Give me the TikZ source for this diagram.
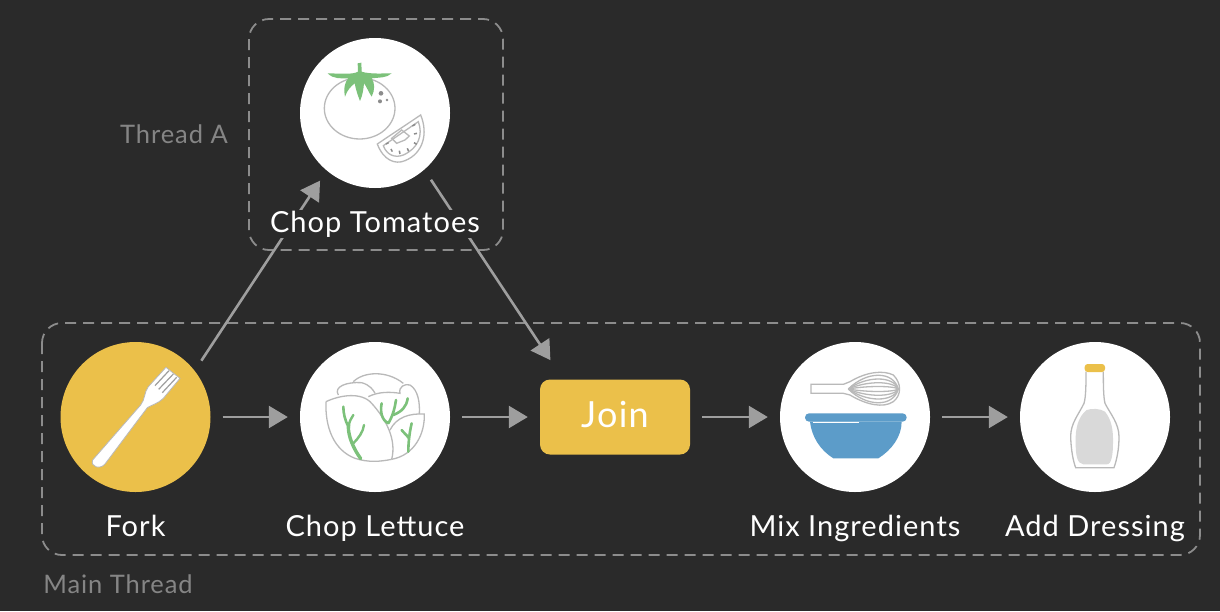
\documentclass[tikz,border=0pt]{standalone}
\usepackage{fontspec}
\setmainfont{Lato}[LetterSpace=3.6]
\usetikzlibrary{arrows.meta}
\definecolor{Board}{HTML}{2A2A2A}
\definecolor{Wire}{HTML}{9E9E9E}
\definecolor{Frame}{HTML}{8C8C8C}
\definecolor{Mute}{HTML}{858585}
\definecolor{Outline}{HTML}{B9B9B9}
\definecolor{Leaf}{HTML}{7CC17A}
\definecolor{Mustard}{HTML}{EBC04A}
\definecolor{Bowl}{HTML}{5C9CC9}
\definecolor{Sauce}{HTML}{D9D9D9}
\tikzset{
  disc/.style={circle,fill=white,minimum size=150pt,inner sep=0pt},
  tag/.style={anchor=base,text=white,font=\fontsize{29}{34}\selectfont,fill=Board,inner sep=1pt},
  note/.style={anchor=base,text=Mute,font=\fontsize{25.5}{30}\selectfont},
  flow/.style={Wire,line width=2.6pt,-{Triangle[length=19pt,width=22pt]},shorten <=12pt,shorten >=12pt},
  threadbox/.style={Frame,line width=1.8pt,rounded corners=20pt,dash pattern=on 11pt off 7pt},
  icon/.style={x=.3333pt,y=-.3333pt},
  thin line/.style={Outline,line width=1.3pt}
}
\begin{document}
\begin{tikzpicture}[x=1pt,y=-1pt]
  \useasboundingbox[fill=Board] (0,0) rectangle (1220,611);
  % thread frames
  \draw[threadbox] (249,19) rectangle (503,250);
  \draw[threadbox] (42,323) rectangle (1200,555);
  % steps
  \node[disc] (tomato) at (375,113) {};
  \node[disc,fill=Mustard] (fork) at (135.5,417) {};
  \node[disc] (lettuce) at (375,417) {};
  \node[fill=Mustard,rounded corners=10pt,minimum width=150pt,minimum height=75pt,inner sep=0pt] (join) at (615,417) {};
  \node[disc] (mix) at (855,417) {};
  \node[disc] (dressing) at (1095,417) {};
  % connectors
  \draw[flow] (fork) -- (lettuce);
  \draw[flow] (lettuce) -- (join);
  \draw[flow] (join) -- (mix);
  \draw[flow] (mix) -- (dressing);
  \draw[flow] (fork.38) -- (tomato.230);
  \draw[flow,shorten >=23pt] (tomato.-49) -- (join.144);
  % labels
  \node[tag] (tomatotag) at (375,232) {Chop Tomatoes};
  \node[tag,fill=none] (forktag) at (135.5,536) {Fork};
  \node[tag,fill=none] (lettucetag) at (375,536) {Chop Lettuce};
  \node[tag,fill=none,font=\fontsize{36}{40}\selectfont] (jointag) at (615,427) {Join};
  \node[tag,fill=none] (mixtag) at (855,536) {Mix Ingredients};
  \node[tag,fill=none] (dressingtag) at (1095,536) {Add Dressing};
  \node[note] (threada) at (174,143) {Thread A};
  \node[note] (mainthread) at (118,593) {Main Thread};
  % tomato
  \begin{scope}[shift={(290,40)},icon]
    \draw[thin line] (209,205) ellipse [x radius=106,y radius=92];
    \fill[Leaf] (113,100) .. controls (140,100) and (190,105) .. (204,95) -- (203,70) -- (214,68) -- (215,95) .. controls (240,103) and (280,100) .. (305,100) .. controls (290,115) and (265,112) .. (245,115) .. controls (255,130) and (255,150) .. (245,170) .. controls (235,155) and (230,140) .. (222,130) .. controls (220,150) and (218,165) .. (210,183) .. controls (203,165) and (198,150) .. (194,130) .. controls (182,140) and (172,150) .. (165,170) .. controls (160,145) and (165,125) .. (175,115) .. controls (155,115) and (130,118) .. (113,100) -- cycle;
    \fill[Frame] (273,160) circle [radius=7] (270,184) circle [radius=6] (291,180) circle [radius=4];
    \draw[thin line] (262,312) -- (392,225) .. controls (415,280) and (400,340) .. (345,362) .. controls (315,375) and (280,360) .. (262,312) -- cycle;
    \draw[thin line] (280,317) -- (385,245) .. controls (400,285) and (385,325) .. (340,345) .. controls (315,355) and (290,345) .. (280,317) -- cycle;
    \draw[thin line] (305,295) -- (335,270) -- (358,288) -- (345,300) -- (320,310) -- cycle;
    \foreach \a/\b/\c/\d in {288/312/296/308,303/327/307/335,328/332/330/342,352/325/356/334,372/308/380/313,372/282/381/280,367/258/376/253}
      \draw[Frame,line width=1.5pt] (\a,\b) -- (\c,\d);
  \end{scope}
  % fork
  \begin{scope}[shift={(50,340)},icon]
    \draw[fill=white,draw=Outline,line width=.8pt] (128,360) -- (272,195) .. controls (285,180) and (283,155) .. (295,140) -- (348,82) -- (390,115) -- (340,175) .. controls (325,190) and (305,195) .. (292,203) -- (165,372) .. controls (150,390) and (120,380) .. (128,360) -- cycle;
    \foreach \a/\b/\c/\d in {357/92/315/137,370/102/326/148,380/112/337/158}
      \draw[Wire,line width=1.2pt] (\a,\b) -- (\c,\d);
  \end{scope}
  % lettuce
  \begin{scope}[shift={(290,340)},icon]
    \draw[thin line] (190,125) .. controls (220,95) and (290,90) .. (340,130);
    \draw[thin line] (145,165) .. controls (130,140) and (170,125) .. (215,128) .. controls (240,135) and (250,150) .. (255,160);
    \draw[thin line] (108,185) .. controls (150,165) and (215,155) .. (245,190) .. controls (290,240) and (320,300) .. (305,358);
    \draw[thin line] (108,185) .. controls (105,260) and (130,330) .. (195,355) .. controls (235,368) and (270,365) .. (305,358);
    \draw[thin line] (300,270) .. controls (320,230) and (360,220) .. (403,222) .. controls (405,280) and (375,345) .. (305,358);
    \draw[thin line] (235,170) .. controls (265,155) and (300,155) .. (330,160) .. controls (325,140) and (345,130) .. (360,135) .. controls (385,150) and (390,190) .. (388,222);
    \draw[Leaf,line width=3.4pt,line cap=round] (212,356) .. controls (190,325) and (175,290) .. (175,260);
    \draw[Leaf,line width=2.6pt,line cap=round] (175,260) .. controls (165,240) and (160,220) .. (160,200);
    \draw[Leaf,line width=2.4pt,line cap=round] (177,262) .. controls (175,245) and (185,235) .. (190,225) (190,310) .. controls (205,295) and (220,275) .. (222,255);
    \draw[Leaf,line width=2.6pt,line cap=round] (295,250) .. controls (275,240) and (270,215) .. (275,190) (295,250) .. controls (310,225) and (315,200) .. (318,180) (310,225) .. controls (335,215) and (350,200) .. (353,175) (355,335) .. controls (355,310) and (358,280) .. (365,250) (357,295) .. controls (350,285) and (343,280) .. (335,270);
  \end{scope}
  % whisk and bowl
  \begin{scope}[shift={(770,340)},icon]
    \draw[thin line] (220,133) -- (123,133) -- (123,160) -- (220,160) -- (240,165) .. controls (290,195) and (340,205) .. (370,185) .. controls (395,165) and (395,130) .. (370,105) .. controls (340,90) and (290,95) .. (240,125) -- cycle;
    \foreach \r in {10,25,40,55}
      \draw[thin line] (235,147) .. controls (290,147-\r) and (370,147-\r) .. (385,147) .. controls (370,147+\r) and (290,147+\r) .. (235,147);
    \fill[Bowl] (120,245) .. controls (125,290) and (150,330) .. (190,355) -- (325,355) .. controls (365,330) and (395,290) .. (395,245) -- cycle;
    \fill[Bowl,rounded corners=4pt] (105,220) rectangle (410,245);
    \draw[white,line width=1.5pt] (130,248) -- (268,248);
  \end{scope}
  % bottle
  \begin{scope}[shift={(1010,340)},icon]
    \draw[thin line] (228,95) .. controls (228,130) and (228,170) .. (222,190) .. controls (205,225) and (182,250) .. (182,290) .. controls (183,330) and (190,365) .. (197,383) -- (312,383) .. controls (320,360) and (327,330) .. (327,290) .. controls (327,250) and (300,220) .. (285,190) .. controls (280,170) and (280,130) .. (280,95);
    \fill[Sauce] (230,210) .. controls (245,205) and (270,205) .. (285,215) .. controls (305,240) and (310,270) .. (309,310) .. controls (309,340) and (305,375) .. (290,373) -- (220,373) .. controls (200,372) and (197,340) .. (197,310) .. controls (195,265) and (205,230) .. (230,210) -- cycle;
    \fill[Mustard,rounded corners=3pt] (224,72) rectangle (285,96);
  \end{scope}
\end{tikzpicture}
\end{document}
